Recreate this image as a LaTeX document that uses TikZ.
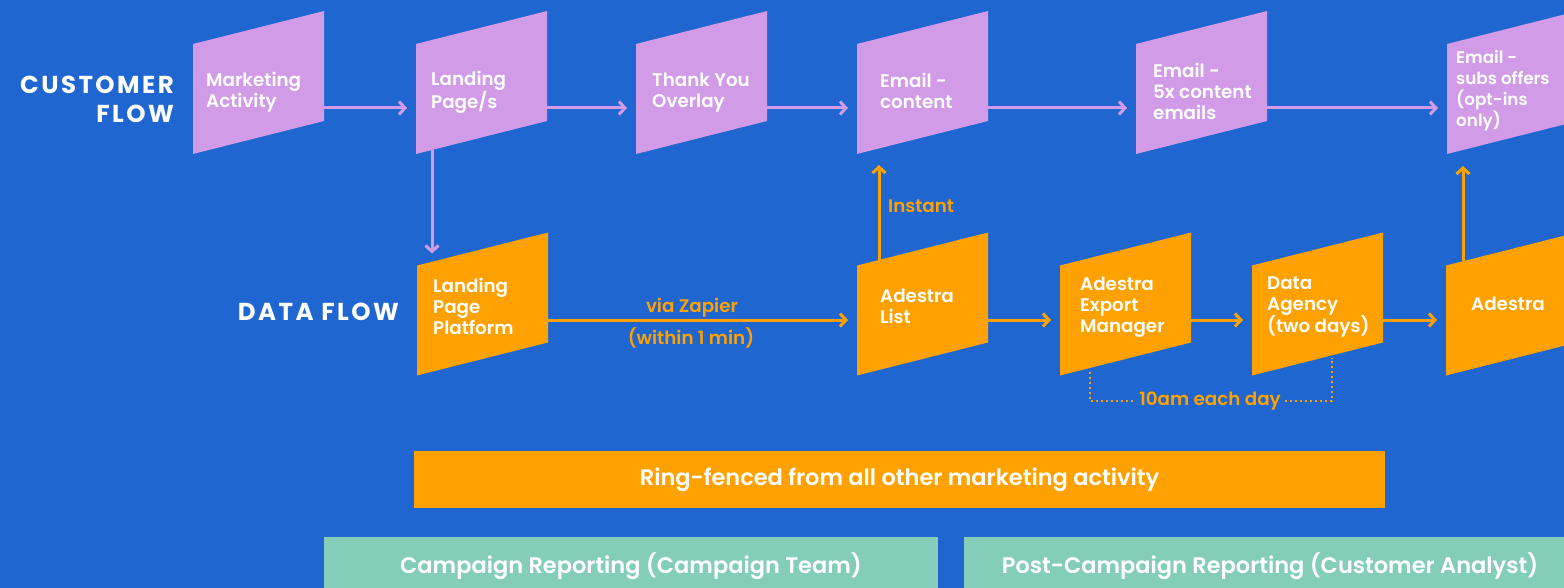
\documentclass[tikz,border=0pt]{standalone}
\usepackage{fontspec}
\setmainfont{Poppins}
\newfontfamily\semib{Poppins SemiBold}
\usetikzlibrary{calc,arrows.meta}
\definecolor{bgblue}{RGB}{31,102,209}
\definecolor{purp}{RGB}{209,155,232}
\definecolor{orng}{RGB}{255,161,0}
\definecolor{teal}{RGB}{132,205,185}
\newcommand\mkpara[2]{\fill[#2] ($(#1.north west)+(0,33)$) -- (#1.north east) -- ($(#1.south east)+(0,-33)$) -- (#1.south west) -- cycle;}
\begin{document}
\begin{tikzpicture}[x=1pt,y=-1pt,
  box/.style={minimum width=131pt,minimum height=143pt,inner sep=0pt,outer sep=0pt},
  txt/.style={anchor=west,inner sep=0pt,align=left,text=white,font=\fontsize{18.3}{21}\semib},
  lbl/.style={inner sep=0pt,text=orng,font=\fontsize{18.3}{21}\semib},
  head/.style={inner sep=0pt,text=white,align=right,font=\fontsize{24.5}{29}\bfseries\addfontfeature{LetterSpace=10}},
  parr/.style={draw=purp,line width=3pt,-{Straight Barb[length=6pt,width=13pt]},shorten >=9pt},
  oarr/.style={draw=orng,line width=3pt,-{Straight Barb[length=6pt,width=13pt]},shorten >=9pt},
  dots/.style={draw=orng,line width=2.5pt,dash pattern=on 2.5pt off 2.5pt},
  bar/.style={inner sep=0pt,text=white,font=\fontsize{22.5}{26}\semib}]
\useasboundingbox (0,0) rectangle (1564,588);
\clip (0,0) rectangle (1564,588);
\fill[bgblue] (0,0) rectangle (1564,588);
% boxes
\node[box] (ma) at (258.5,82.5) {};
\node[box] (lp) at (481.5,82.5) {};
\node[box] (ty) at (701.5,82.5) {};
\node[box] (ec) at (922.5,82.5) {};
\node[box] (e5) at (1201.5,82.5) {};
\node[box] (es) at (1512.5,82.5) {};
\node[box] (lpp) at (482.5,304) {};
\node[box] (al) at (922.5,304) {};
\node[box] (aem) at (1125.5,304) {};
\node[box] (da) at (1317.5,304) {};
\node[box] (ad) at (1511.5,304) {};
\mkpara{ma}{purp}\mkpara{lp}{purp}\mkpara{ty}{purp}\mkpara{ec}{purp}\mkpara{e5}{purp}\mkpara{es}{purp}
\mkpara{lpp}{orng}\mkpara{al}{orng}\mkpara{aem}{orng}\mkpara{da}{orng}\mkpara{ad}{orng}
% texts
\node[txt] (ma-t) at ($(ma.west)+(13,9.5)$) {Marketing\\Activity};
\node[txt] (lp-t) at ($(lp.west)+(15,9.5)$) {Landing\\Page/s};
\node[txt] (ty-t) at ($(ty.west)+(16,10.5)$) {Thank You\\Overlay};
\node[txt] (ec-t) at ($(ec.west)+(23,8.5)$) {Email -\\content};
\node[txt] (e5-t) at ($(e5.west)+(17,8.5)$) {Email -\\5x content\\emails};
\node[txt,font=\fontsize{16.8}{21}\semib] (es-t) at ($(es.west)+(9,8.5)$) {Email -\\subs offers\\(opt-ins\\only)};
\node[txt] (lpp-t) at ($(lpp.west)+(16,2)$) {Landing\\Page\\Platform};
\node[txt] (al-t) at ($(al.west)+(23,2)$) {Adestra\\List};
\node[txt] (aem-t) at ($(aem.west)+(20,3)$) {Adestra\\Export\\Manager};
\node[txt] (da-t) at ($(da.west)+(15,3)$) {Data\\Agency\\(two days)};
\node[txt] (ad-t) at ($(ad.west)+(25,0)$) {Adestra};
% headings
\node[head,anchor=east] (cf) at (174,99) {CUSTOMER\\FLOW};
\node[head,anchor=east] (df) at (399,312) {DATA FLOW};
% customer arrows
\draw[parr] ($(ma.east)+(0,25.5)$) -- ($(lp.west)+(0,25.5)$);
\draw[parr] ($(lp.east)+(0,25.5)$) -- ($(ty.west)+(0,25.5)$);
\draw[parr] ($(ty.east)+(0,25.5)$) -- ($(ec.west)+(0,25.5)$);
\draw[parr] ($(ec.east)+(0,25.5)$) -- ($(e5.west)+(0,25.5)$);
\draw[parr] ($(e5.east)+(0,25.5)$) -- ($(es.west)+(0,25.5)$);
\draw[parr] ($(lp.south west)+(16,-4)$) -- ($(lpp.north west)+(15,30)$);
% data arrows
\draw[oarr] ($(lpp.east)+(0,16)$) -- ($(al.west)+(0,16)$);
\node[lbl] (vz) at (692,307.5) {via Zapier};
\node[lbl] (w1) at (691,337.5) {(within 1 min)};
\draw[oarr] ($(al.east)+(0,16)$) -- ($(aem.west)+(0,16)$);
\draw[oarr] ($(aem.east)+(0,16)$) -- ($(da.west)+(0,16)$);
\draw[oarr] ($(da.east)+(0,16)$) -- ($(ad.west)+(0,16)$);
\draw[oarr,shorten >=17pt] ($(al.north west)+(22,28)$) -- ($(ec.south west)+(22,-6)$);
\node[lbl,anchor=west] (inst) at (888,206) {Instant};
\draw[oarr,shorten >=16pt] ($(ad.north west)+(17,29)$) -- ($(es.south west)+(16,-4)$);
% dotted
\node[lbl,inner sep=4pt] (tday) at (1210,401) {10am each day};
\draw[dots] ($(aem.south west)+(30,-4)$) |- (tday.west);
\draw[dots] (tday.east) -| ($(da.south west)+(80,-18)$);
% bars
\node[bar,fill=orng,minimum width=971pt,minimum height=57pt] (ring) at (899.5,479.5) {Ring-fenced from all other marketing activity};
\node[bar,fill=teal,minimum width=614pt,minimum height=58pt] (crep) at (631,566) {Campaign Reporting (Campaign Team)};
\node[bar,fill=teal,minimum width=612pt,minimum height=58pt] (prep) at (1270,566) {Post-Campaign Reporting (Customer Analyst)};
\end{tikzpicture}
\end{document}
